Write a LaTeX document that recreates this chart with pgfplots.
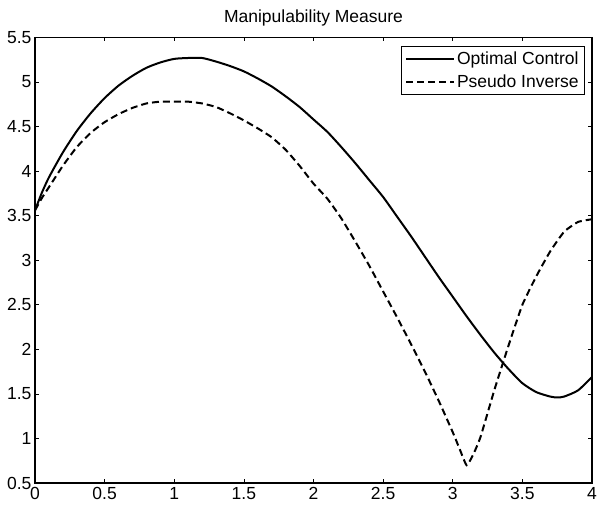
\documentclass[border=0pt]{standalone}
\usepackage{pgfplots}
\pgfplotsset{compat=1.18}
\usepackage{fontspec}
\setmainfont{Liberation Sans}

% Manipulability measure for the two controllers
\pgfplotstableread{
x     y
0     3.56
0.05  3.76
0.1   3.93
0.2   4.21
0.3   4.45
0.4   4.65
0.5   4.82
0.6   4.96
0.7   5.07
0.8   5.16
0.9   5.22
1.0   5.26
1.1   5.27
1.2   5.27
1.3   5.23
1.4   5.18
1.5   5.12
1.6   5.04
1.7   4.95
1.8   4.84
1.9   4.72
2.0   4.58
2.1   4.44
2.2   4.27
2.3   4.09
2.4   3.90
2.5   3.71
2.6   3.49
2.7   3.27
2.8   3.04
2.9   2.81
3.0   2.59
3.1   2.37
3.2   2.16
3.3   1.96
3.4   1.78
3.5   1.62
3.6   1.52
3.7   1.47
3.75  1.46
3.8   1.47
3.9   1.54
4.0   1.69
}\optimal

\pgfplotstableread{
x     y
0     3.56
0.05  3.70
0.1   3.82
0.2   4.06
0.3   4.27
0.4   4.43
0.5   4.55
0.6   4.64
0.7   4.71
0.8   4.76
0.9   4.78
1.0   4.78
1.1   4.78
1.2   4.76
1.3   4.72
1.4   4.65
1.5   4.57
1.6   4.48
1.7   4.38
1.8   4.24
1.9   4.06
2.0   3.86
2.1   3.69
2.2   3.47
2.3   3.21
2.4   2.94
2.5   2.65
2.6   2.36
2.7   2.06
2.8   1.75
2.9   1.42
3.0   1.07
3.05  0.88
3.1   0.70
3.15  0.83
3.2   1.02
3.3   1.55
3.4   2.04
3.5   2.50
3.6   2.82
3.7   3.10
3.8   3.32
3.9   3.43
4.0   3.46
}\pseudo

\begin{document}
\begin{tikzpicture}[font=\fontsize{17.5bp}{20bp}\selectfont]
\begin{axis}[
  name=ax,
  width=557bp, height=445.5bp, scale only axis,
  xmin=0, xmax=4, ymin=0.5, ymax=5.5,
  xtick={0,0.5,...,4},
  ytick={0.5,1,...,5.5},
  /pgf/number format/assume math mode=true,
  tick label style={font=\fontsize{17.5bp}{20bp}\selectfont},
  xticklabel style={yshift=-1bp},
  tick align=inside,
  major tick length=4bp,
  tick style={black, line width=0.6bp},
  axis line style={line width=1.2bp},
  title={Manipulability Measure},
  title style={font=\fontsize{17.5bp}{20bp}\selectfont, at={(0.5,1)}, anchor=south, yshift=2bp},
  legend cell align=left,
  legend style={at={(1,1)}, anchor=north east, xshift=-7bp, yshift=-9bp,
    draw=black, line width=0.8bp, font=\fontsize{17.5bp}{20bp}\selectfont,
    row sep=5bp, inner xsep=4bp, inner ysep=3bp},
  legend image code/.code={\draw[#1, line width=2bp] (0bp,0bp) -- (48bp,0bp);},
]
\addplot[black, line width=2bp, smooth, tension=0.4] table[x=x, y=y] {\optimal};
\addlegendentry{Optimal Control}
\addplot[black, line width=2bp, dash pattern=on 7bp off 4bp, smooth, tension=0.3] table[x=x, y=y] {\pseudo};
\addlegendentry{Pseudo Inverse}
\end{axis}
\pgfresetboundingbox
\path ([xshift=-35bp,yshift=-22bp]ax.south west) rectangle ([xshift=5bp,yshift=37.5bp]ax.north east);
\end{tikzpicture}
\end{document}
